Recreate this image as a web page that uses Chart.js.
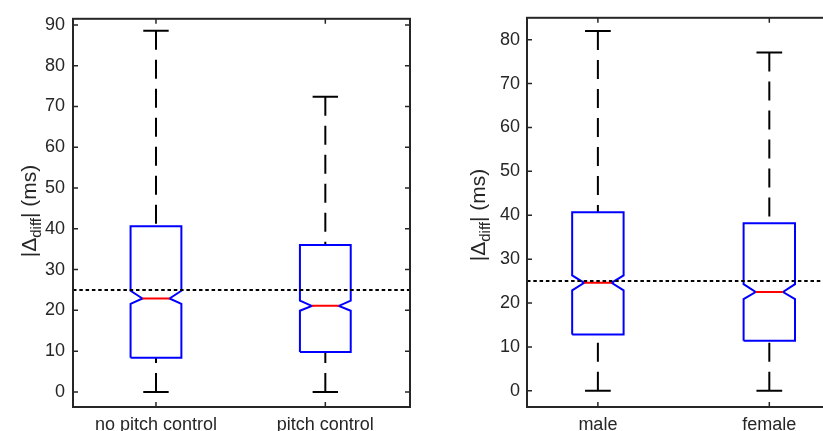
<!DOCTYPE html>
<html>
  <head>
    <script src="https://cdn.jsdelivr.net/npm/chart.js"></script>
    <style>
      body { margin: 0; background: #fff; overflow: hidden; width: 823px; height: 431px; }
      canvas { position: absolute; top: 0; }
    </style>
  </head>
  <body>
    <canvas id="leftChart" width="420" height="431" style="left:0px"></canvas>
    <canvas id="rightChart" width="390" height="431" style="left:440px"></canvas>
    <script>
      // Left panel: pitch control
      const categoriesA = ['no pitch control', 'pitch control'];
      const whiskerLowA = [0, 0];
      const q1A = [8.4, 9.8];
      const notchLowA = [21.6, 19.9];
      const medianA = [22.9, 21.1];
      const notchHighA = [24.8, 22.4];
      const q3A = [40.6, 36.0];
      const whiskerHighA = [88.6, 72.4];
      const xLimitsA = [0.51, 2.5];
      const yLimitsA = [-3.7, 91.5];

      // Right panel: speaker gender
      const categoriesB = ['male', 'female'];
      const whiskerLowB = [0, 0];
      const q1B = [12.8, 11.4];
      const notchLowB = [22.9, 20.9];
      const medianB = [24.6, 22.5];
      const notchHighB = [26.3, 24.3];
      const q3B = [40.7, 38.2];
      const whiskerHighB = [82.0, 77.1];
      const xLimitsB = [0.5865, 2.354];
      const yLimitsB = [-3.7, 85];

      const threshold = 25;
      const yStep = 10;

      const FONT = "'Liberation Sans', Arial, Helvetica, sans-serif";
      const AXIS = '#262626';
      const HALF = 0.15;   // half box width (x units)
      const NOTCH = 0.07;  // notch depth
      const CAP = 0.075;   // half cap width

      function line(pts, color, width, dash, order) {
        return {
          data: pts, showLine: true, borderColor: color, borderWidth: width,
          borderDash: dash || [], pointRadius: 0, tension: 0, fill: false, order: order || 0
        };
      }

      function buildDatasets(lo, q1, nLo, med, nHi, q3, hi, xLim) {
        const sets = [];
        med.forEach((m, i) => {
          const x = i + 1;
          const l = x - HALF, r = x + HALF;
          // whiskers, drawn from the cap towards the box so the dash starts at the cap
          sets.push(line([{x: x, y: hi[i]}, {x: x, y: q3[i]}], '#000', 2, [19, 10], 3));
          sets.push(line([{x: x, y: lo[i]}, {x: x, y: q1[i]}], '#000', 2, [19, 10], 3));
          sets.push(line([{x: x - CAP, y: hi[i]}, {x: x + CAP, y: hi[i]}], '#000', 2, [], 3));
          sets.push(line([{x: x - CAP, y: lo[i]}, {x: x + CAP, y: lo[i]}], '#000', 2, [], 3));
          // notched box
          sets.push(line([
            {x: l, y: q1[i]}, {x: r, y: q1[i]}, {x: r, y: nLo[i]}, {x: r - NOTCH, y: m},
            {x: r, y: nHi[i]}, {x: r, y: q3[i]}, {x: l, y: q3[i]}, {x: l, y: nHi[i]},
            {x: l + NOTCH, y: m}, {x: l, y: nLo[i]}, {x: l, y: q1[i]}
          ], '#0000ff', 2, [], 2));
          // median
          sets.push(line([{x: l + NOTCH, y: m}, {x: r - NOTCH, y: m}], '#ff0000', 2, [], 1));
        });
        sets.push(line([{x: xLim[0], y: threshold}, {x: xLim[1], y: threshold}], '#000', 2, [3.5, 2.8], -1));
        return sets;
      }

      const framePlugin = {
        id: 'frame',
        afterDraw(chart, args, opts) {
          const {ctx, chartArea: a, scales: {x, y}} = chart;
          ctx.save();
          ctx.strokeStyle = AXIS;
          ctx.lineWidth = 1.5;
          ctx.beginPath();
          y.ticks.forEach(t => {
            const py = y.getPixelForValue(t.value);
            ctx.moveTo(a.left, py); ctx.lineTo(a.left + 5, py);
            ctx.moveTo(a.right - 5, py); ctx.lineTo(a.right, py);
          });
          x.ticks.forEach(t => {
            const px = x.getPixelForValue(t.value);
            ctx.moveTo(px, a.bottom); ctx.lineTo(px, a.bottom - 5);
            ctx.moveTo(px, a.top); ctx.lineTo(px, a.top + 5);
          });
          ctx.stroke();
          ctx.lineWidth = 2;
          ctx.strokeRect(a.left, a.top, a.right - a.left, a.bottom - a.top);

          // y title |Δ_diff| (ms)
          ctx.fillStyle = AXIS;
          ctx.textBaseline = 'alphabetic';
          ctx.textAlign = 'left';
          const big = '21px ' + FONT, small = '15px ' + FONT;
          ctx.font = big;
          const w1 = ctx.measureText('|\u0394').width;
          const w3 = ctx.measureText('| (ms)').width;
          ctx.font = small;
          const w2 = ctx.measureText('diff').width;
          const total = w1 + w2 + w3;
          ctx.translate(opts.titleX, opts.titleY);
          ctx.rotate(-Math.PI / 2);
          let pos = -total / 2;
          ctx.font = big;
          ctx.fillText('|\u0394', pos, 0); pos += w1;
          ctx.font = small;
          ctx.fillText('diff', pos, 5); pos += w2;
          ctx.font = big;
          ctx.fillText('| (ms)', pos, 0);
          ctx.restore();
        }
      };

      function makeChart(id, cats, sets, xLim, yLim, yMaxTick, axisWidth, padRight, tickPad, titleX, titleY) {
        return new Chart(document.getElementById(id), {
          type: 'scatter',
          data: { datasets: sets },
          plugins: [framePlugin],
          options: {
            responsive: false,
            animation: false,
            layout: { padding: { top: 16, right: padRight, left: 0, bottom: 0 } },
            plugins: {
              legend: { display: false },
              tooltip: { enabled: false },
              frame: { titleX: titleX, titleY: titleY }
            },
            scales: {
              x: {
                type: 'linear', min: xLim[0], max: xLim[1],
                grid: { display: false, drawTicks: false },
                border: { display: false },
                afterBuildTicks: s => { s.ticks = cats.map((c, i) => ({ value: i + 1 })); },
                afterFit: s => { s.height = 24; },
                ticks: {
                  autoSkip: false, maxRotation: 0, padding: 7,
                  color: AXIS, font: { family: FONT, size: 18 },
                  callback: v => cats[v - 1]
                }
              },
              y: {
                min: yLim[0], max: yLim[1],
                grid: { display: false, drawTicks: false },
                border: { display: false },
                afterBuildTicks: s => {
                  const t = [];
                  for (let v = 0; v <= yMaxTick; v += yStep) t.push({ value: v });
                  s.ticks = t;
                },
                afterFit: s => { s.width = axisWidth; },
                ticks: {
                  padding: tickPad, color: AXIS, font: { family: FONT, size: 18 }
                }
              }
            }
          }
        });
      }

      makeChart('leftChart', categoriesA,
        buildDatasets(whiskerLowA, q1A, notchLowA, medianA, notchHighA, q3A, whiskerHighA, xLimitsA),
        xLimitsA, yLimitsA, 90, 73, 10, 8, 36, 211);
      makeChart('rightChart', categoriesB,
        buildDatasets(whiskerLowB, q1B, notchLowB, medianB, notchHighB, q3B, whiskerHighB, xLimitsB),
        xLimitsB, yLimitsB, 80, 87, 0, 7, 45, 215);
    </script>
  </body>
</html>
